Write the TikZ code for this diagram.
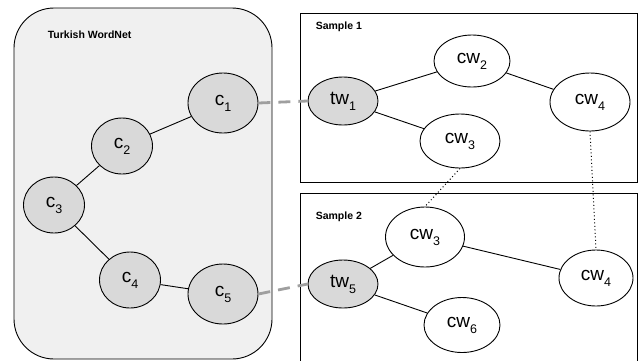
\documentclass[tikz,border=0pt]{standalone}
\usepackage{fontspec}
\setmainfont{Liberation Sans}
\usetikzlibrary{shapes.geometric}
\newcommand{\lowidx}[1]{\raisebox{-0.6ex}{\fontsize{12.5}{12.5}\selectfont #1}}
\begin{document}
\begin{tikzpicture}[x=1pt,y=-1pt,line width=0.9pt,
  concept/.style={draw,ellipse,fill=gray!30,inner sep=0pt,font=\fontsize{19}{19}\selectfont},
  word/.style={draw,ellipse,fill=white,inner sep=0pt,font=\fontsize{19}{19}\selectfont},
  link/.style={gray!75,line width=2.8pt,dash pattern=on 12pt off 8pt},
  match/.style={line width=1pt,dash pattern=on 1pt off 2.5pt},
  caption/.style={font=\fontsize{10.5}{10.5}\selectfont\bfseries,anchor=west}]
\useasboundingbox (0,0) rectangle (638,360);
\draw[fill=gray!12,rounded corners=40pt] (14,8) rectangle (272,359);
\draw (300,13) rectangle (637,182);
\draw (300,193) rectangle (637,372);
\node[caption] (twn) at (44,35) {Turkish WordNet};
\node[caption] (s1) at (312,27) {Sample 1};
\node[caption] (s2) at (312,217) {Sample 2};
\node[concept,minimum width=70pt,minimum height=60pt] (c1) at (223,103) {c\lowidx{1}};
\node[concept,minimum width=61pt,minimum height=56pt] (c2) at (122,146) {c\lowidx{2}};
\node[concept,minimum width=61pt,minimum height=56pt] (c3) at (54,205) {c\lowidx{3}};
\node[concept,minimum width=61pt,minimum height=56pt] (c4) at (130,280) {c\lowidx{4}};
\node[concept,minimum width=70pt,minimum height=60pt] (c5) at (223,294) {c\lowidx{5}};
\node[concept,minimum width=70pt,minimum height=48pt] (tw1) at (343,101) {tw\lowidx{1}};
\node[word,minimum width=76pt,minimum height=52pt] (cw2) at (472,61) {cw\lowidx{2}};
\node[word,minimum width=80pt,minimum height=54pt] (cw3) at (460,141) {cw\lowidx{3}};
\node[word,minimum width=80pt,minimum height=58pt] (cw4) at (590,102) {cw\lowidx{4}};
\node[concept,minimum width=70pt,minimum height=48pt] (tw5) at (343,284) {tw\lowidx{5}};
\node[word,minimum width=79pt,minimum height=60pt] (cwb3) at (425,237) {cw\lowidx{3}};
\node[word,minimum width=74pt,minimum height=56pt] (cwb4) at (596,278) {cw\lowidx{4}};
\node[word,minimum width=76pt,minimum height=55pt] (cw6) at (462,325) {cw\lowidx{6}};
\draw (c1) -- (c2);
\draw (c2) -- (c3);
\draw (c3) -- (c4);
\draw (c4) -- (c5);
\draw (tw1) -- (cw2);
\draw (tw1) -- (cw3);
\draw (cw2) -- (cw4);
\draw (tw5) -- (cwb3);
\draw (cwb3) -- (cwb4);
\draw (tw5) -- (cw6);
\draw[link] (c1.east) -- (tw1.west);
\draw[link] (c5.east) -- (tw5.west);
\draw[match] (cw3.south) -- (cwb3.north);
\draw[match] (cw4.south) -- (cwb4.north);
\end{tikzpicture}
\end{document}
